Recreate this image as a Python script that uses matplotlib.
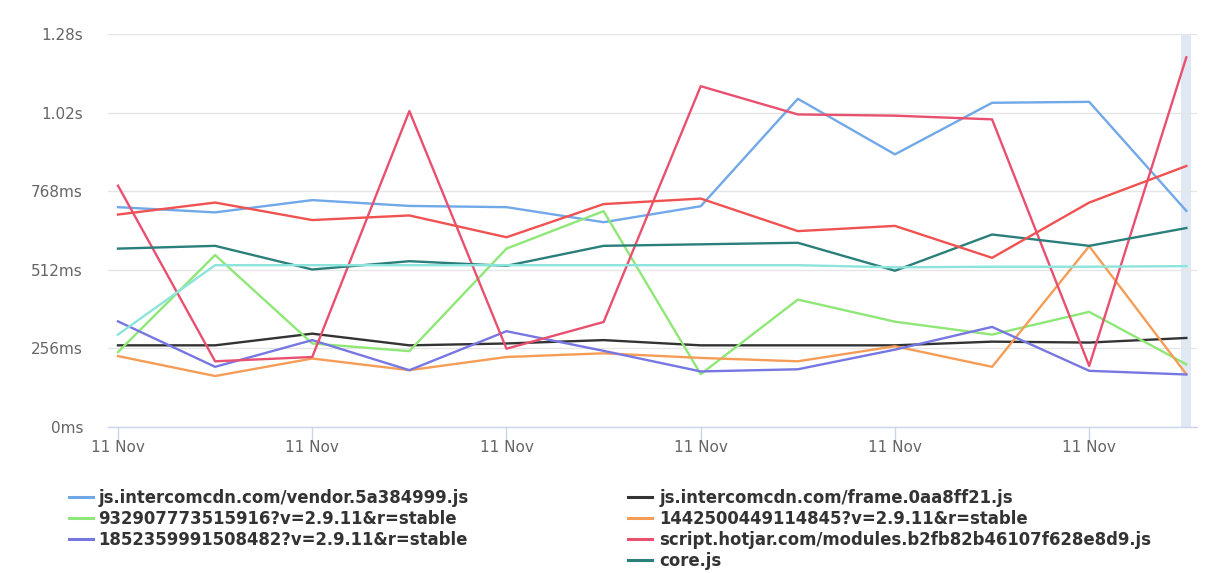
import matplotlib
matplotlib.use("Agg")
import matplotlib.pyplot as plt
from matplotlib.ticker import FixedLocator

plt.rcParams['font.family'] = ['DejaVu Sans']

# ---- data (ms) ----
categories = ['11 Nov'] * 12
vendor  = [716, 699, 739, 720, 716, 667, 719, 1069, 888, 1056, 1059, 704]
frame   = [266, 266, 304, 266, 272, 283, 266, 266, 266, 278, 275, 290]
s9329   = [244, 560, 272, 247, 581, 703, 172, 415, 343, 301, 375, 204]
s1442   = [231, 166, 223, 185, 228, 240, 225, 214, 263, 196, 589, 172]
s1852   = [344, 196, 283, 185, 312, 248, 181, 188, 252, 326, 183, 171]
hotjar  = [786, 214, 228, 1029, 255, 342, 1110, 1018, 1014, 1002, 199, 1204]
core    = [581, 590, 513, 540, 525, 590, 595, 600, 509, 627, 590, 648]
extra_red  = [692, 731, 674, 689, 618, 726, 744, 638, 655, 551, 731, 850]
extra_cyan = [301, 527, 527, 527, 527, 527, 527, 527, 520, 522, 522, 524]

series_names = [
    'js.intercomcdn.com/vendor.5a384999.js',
    'js.intercomcdn.com/frame.0aa8ff21.js',
    '932907773515916?v=2.9.11&r=stable',
    '1442500449114845?v=2.9.11&r=stable',
    '1852359991508482?v=2.9.11&r=stable',
    'script.hotjar.com/modules.b2fb82b46107f628e8d9.js',
    'core.js',
]
series_values = [vendor, frame, s9329, s1442, s1852, hotjar, core]
series_colors = ['#70a8e8', '#333333', '#8ee776', '#f59d56', '#7777e2',
                 '#e9506f', '#2b7f7b']
extra_values = [extra_red, extra_cyan]
extra_colors = ['#f05252', '#8ce4dc']

yticks = [0, 256, 512, 768, 1024, 1280]
ytick_labels = ['0ms', '256ms', '512ms', '768ms', '1.02s', '1.28s']

# ---- figure ----
W, H = 1217, 573
fig = plt.figure(figsize=(W / 100, H / 100), dpi=100)
left, right, top, bottom = 108, 1197, 34, 427
ax = fig.add_axes([left / W, 1 - bottom / H, (right - left) / W, (bottom - top) / H])

x = list(range(len(categories)))

ax.axvspan(x[-1] - 0.05, x[-1] + 0.045, color='#dfe8f3', zorder=0.5, lw=0)

handles = []
for vals, col, name in zip(series_values, series_colors, series_names):
    ln, = ax.plot(x, vals, color=col, lw=1.7, label=name, zorder=2)
    handles.append(ln)
for vals, col in zip(extra_values, extra_colors):
    ax.plot(x, vals, color=col, lw=1.7, zorder=2)

ax.set_xlim(-0.103, 11.11)
ax.set_ylim(0, 1280)

ax.yaxis.set_major_locator(FixedLocator(yticks))
ax.set_yticklabels(ytick_labels)
ax.grid(axis='y', color='#e6e6e6', lw=1)
ax.set_axisbelow(True)
ax.tick_params(axis='y', length=0, pad=18, labelsize=11, labelcolor='#666666')

xt = x[::2]
ax.set_xticks(xt)
ax.set_xticklabels([categories[i] for i in xt])
ax.tick_params(axis='x', length=9.5, width=1, color='#ccd6eb', pad=0,
               labelsize=11, labelcolor='#666666')

for s in ['top', 'right', 'left']:
    ax.spines[s].set_visible(False)
ax.spines['bottom'].set_color('#ccd6eb')
ax.spines['bottom'].set_linewidth(1)

# ---- legend: two columns, filled row by row as in the reference ----
col1 = [0, 2, 4]
col2 = [1, 3, 5, 6]
common = dict(frameon=False, prop={'weight': 'bold', 'size': 11.9},
              labelcolor='#333333', handlelength=1.45,
              labelspacing=0.18, borderpad=0, borderaxespad=0)
leg1 = fig.legend([handles[i] for i in col1], [series_names[i] for i in col1],
                  loc='upper left', bbox_to_anchor=(69 / W, 1 - 489 / H),
                  handletextpad=0.32, **common)
leg2 = fig.legend([handles[i] for i in col2], [series_names[i] for i in col2],
                  loc='upper left', bbox_to_anchor=(628 / W, 1 - 489 / H),
                  handletextpad=0.45, **common)
for leg in (leg1, leg2):
    for h in leg.legend_handles:
        h.set_linewidth(2.2)

fig.savefig('out.png', dpi=100)
